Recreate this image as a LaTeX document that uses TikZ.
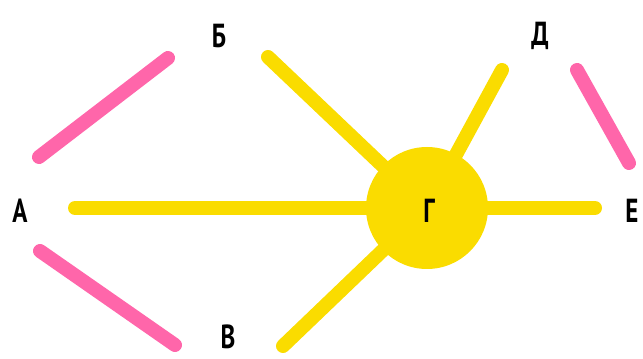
\documentclass[tikz,border=0pt]{standalone}
\usepackage{fontspec}
\setmainfont{PT Sans}[FakeStretch=0.75]
\usepackage{xcolor}
\usetikzlibrary{positioning}
\definecolor{graphYellow}{RGB}{250,220,0}
\definecolor{graphPink}{RGB}{255,102,170}
\tikzset{
  vlabel/.style={font=\bfseries\fontsize{25}{25}\selectfont,inner sep=0pt},
  yedge/.style={draw=graphYellow,line width=10.5pt,line cap=round},
  pedge/.style={draw=graphPink,line width=10.5pt,line cap=round}
}

\begin{document}
\begin{tikzpicture}[x=0.75pt,y=-0.75pt]
\useasboundingbox (0,0) rectangle (643,359);
% vertices
\node[circle,fill=graphYellow,minimum size=91.5pt,inner sep=0pt] (g) at (427,208) {};
\node[vlabel] (a) at (20,211) {А};
\node[vlabel] (b) at (219,36) {Б};
\node[vlabel] (v) at (228,337) {В};
\node[vlabel] (d) at (540,36) {Д};
\node[vlabel] (e) at (632,211) {Е};
% free ends of the edges
\coordinate (ab1) at (39,157);  \coordinate (ab2) at (168,58);
\coordinate (av1) at (40,251);  \coordinate (av2) at (175,345);
\coordinate (de1) at (577,70);  \coordinate (de2) at (629,163);
\coordinate (ag) at (75,208);
\coordinate (bg) at (268,57);
\coordinate (vg) at (283,346);
\coordinate (dg) at (502,70);
\coordinate (eg) at (595,208);
% edges
\draw[pedge] (ab1) -- (ab2);
\draw[pedge] (av1) -- (av2);
\draw[pedge] (de1) -- (de2);
\draw[yedge] (ag) -- (g);
\draw[yedge] (bg) -- (g);
\draw[yedge] (vg) -- (g);
\draw[yedge] (dg) -- (g);
\draw[yedge] (eg) -- (g);
\node[vlabel] (gl) at (429,211) {Г};
\end{tikzpicture}
\end{document}
